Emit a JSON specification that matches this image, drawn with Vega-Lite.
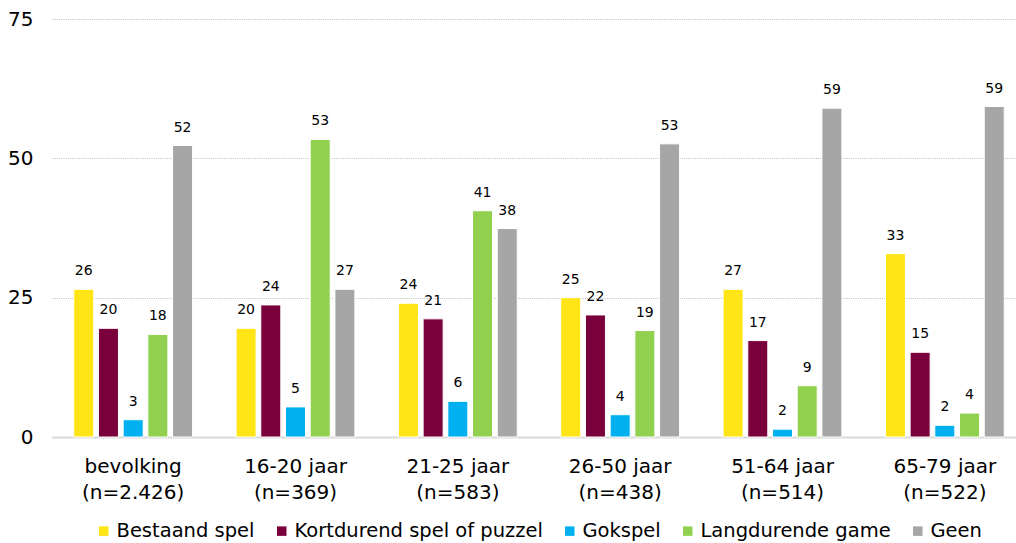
{
  "$schema": "https://vega.github.io/schema/vega-lite/v6.json",
  "width": 974,
  "height": 418,
  "autosize": {"type": "none"},
  "padding": {"left": 52, "top": 19, "right": 0, "bottom": 106},
  "background": "white",
  "config": {
    "view": {"stroke": null},
    "font": "DejaVu Sans",
    "axis": {"labelFont": "DejaVu Sans", "labelColor": "#000000"},
    "legend": {"labelFont": "DejaVu Sans"}
  },
  "data": {
    "values": [
      {"group": "bevolking\n(n=2.426)", "series": "Bestaand spel", "value": 26.5, "label": "26"},
      {"group": "bevolking\n(n=2.426)", "series": "Kortdurend spel of puzzel", "value": 19.5, "label": "20"},
      {"group": "bevolking\n(n=2.426)", "series": "Gokspel", "value": 3.1, "label": "3"},
      {"group": "bevolking\n(n=2.426)", "series": "Langdurende game", "value": 18.4, "label": "18"},
      {"group": "bevolking\n(n=2.426)", "series": "Geen", "value": 52.3, "label": "52"},
      {"group": "16-20 jaar\n(n=369)", "series": "Bestaand spel", "value": 19.5, "label": "20"},
      {"group": "16-20 jaar\n(n=369)", "series": "Kortdurend spel of puzzel", "value": 23.7, "label": "24"},
      {"group": "16-20 jaar\n(n=369)", "series": "Gokspel", "value": 5.4, "label": "5"},
      {"group": "16-20 jaar\n(n=369)", "series": "Langdurende game", "value": 53.4, "label": "53"},
      {"group": "16-20 jaar\n(n=369)", "series": "Geen", "value": 26.5, "label": "27"},
      {"group": "21-25 jaar\n(n=583)", "series": "Bestaand spel", "value": 24.0, "label": "24"},
      {"group": "21-25 jaar\n(n=583)", "series": "Kortdurend spel of puzzel", "value": 21.2, "label": "21"},
      {"group": "21-25 jaar\n(n=583)", "series": "Gokspel", "value": 6.4, "label": "6"},
      {"group": "21-25 jaar\n(n=583)", "series": "Langdurende game", "value": 40.6, "label": "41"},
      {"group": "21-25 jaar\n(n=583)", "series": "Geen", "value": 37.4, "label": "38"},
      {"group": "26-50 jaar\n(n=438)", "series": "Bestaand spel", "value": 25.0, "label": "25"},
      {"group": "26-50 jaar\n(n=438)", "series": "Kortdurend spel of puzzel", "value": 21.9, "label": "22"},
      {"group": "26-50 jaar\n(n=438)", "series": "Gokspel", "value": 4.0, "label": "4"},
      {"group": "26-50 jaar\n(n=438)", "series": "Langdurende game", "value": 19.1, "label": "19"},
      {"group": "26-50 jaar\n(n=438)", "series": "Geen", "value": 52.6, "label": "53"},
      {"group": "51-64 jaar\n(n=514)", "series": "Bestaand spel", "value": 26.5, "label": "27"},
      {"group": "51-64 jaar\n(n=514)", "series": "Kortdurend spel of puzzel", "value": 17.3, "label": "17"},
      {"group": "51-64 jaar\n(n=514)", "series": "Gokspel", "value": 1.4, "label": "2"},
      {"group": "51-64 jaar\n(n=514)", "series": "Langdurende game", "value": 9.2, "label": "9"},
      {"group": "51-64 jaar\n(n=514)", "series": "Geen", "value": 59.0, "label": "59"},
      {"group": "65-79 jaar\n(n=522)", "series": "Bestaand spel", "value": 32.9, "label": "33"},
      {"group": "65-79 jaar\n(n=522)", "series": "Kortdurend spel of puzzel", "value": 15.2, "label": "15"},
      {"group": "65-79 jaar\n(n=522)", "series": "Gokspel", "value": 2.1, "label": "2"},
      {"group": "65-79 jaar\n(n=522)", "series": "Langdurende game", "value": 4.3, "label": "4"},
      {"group": "65-79 jaar\n(n=522)", "series": "Geen", "value": 59.3, "label": "59"}
    ]
  },
  "encoding": {
    "x": {
      "field": "group", "type": "nominal", "sort": null,
      "scale": {"paddingInner": 0.268, "paddingOuter": 0.134},
      "axis": {
        "title": null, "labelAngle": 0, "ticks": false, "tickSize": 0,
        "labelExpr": "split(datum.label, '\\n')",
        "labelFontSize": 20, "labelLineHeight": 26, "labelPadding": 19,
        "domainColor": "#d9d9d9", "domainWidth": 2, "grid": false
      }
    },
    "xOffset": {
      "field": "series", "type": "nominal", "sort": null,
      "scale": {"paddingInner": 0.19, "paddingOuter": 0}
    },
    "y": {
      "field": "value", "type": "quantitative",
      "scale": {"domain": [0, 75], "nice": false},
      "axis": {
        "title": null, "values": [0, 25, 50, 75], "ticks": false, "tickSize": 0,
        "domain": false, "labelFontSize": 20, "labelPadding": 19,
        "grid": true, "gridColor": "#bdbdbd", "gridDash": [1, 1.2], "gridWidth": 1.2
      }
    }
  },
  "layer": [
    {
      "mark": {"type": "bar", "stroke": "white", "strokeWidth": 1},
      "encoding": {
        "color": {
          "field": "series", "type": "nominal", "sort": null,
          "scale": {
            "domain": ["Bestaand spel", "Kortdurend spel of puzzel", "Gokspel", "Langdurende game", "Geen"],
            "range": ["#FFE516", "#7A003C", "#00B0F0", "#92D050", "#A6A6A6"]
          },
          "legend": {
            "title": null, "orient": "none", "direction": "horizontal",
            "legendX": 42, "legendY": 502,
            "symbolType": "square", "symbolSize": 90, "symbolStrokeWidth": 0,
            "labelFontSize": 19.5, "labelColor": "#000000", "labelOffset": 3,
            "columnPadding": 17, "labelLimit": 400
          }
        }
      }
    },
    {
      "mark": {"type": "text", "baseline": "bottom", "dy": -11, "fontSize": 14, "color": "#000000"},
      "encoding": {
        "text": {"field": "label", "type": "nominal"}
      }
    }
  ]
}
